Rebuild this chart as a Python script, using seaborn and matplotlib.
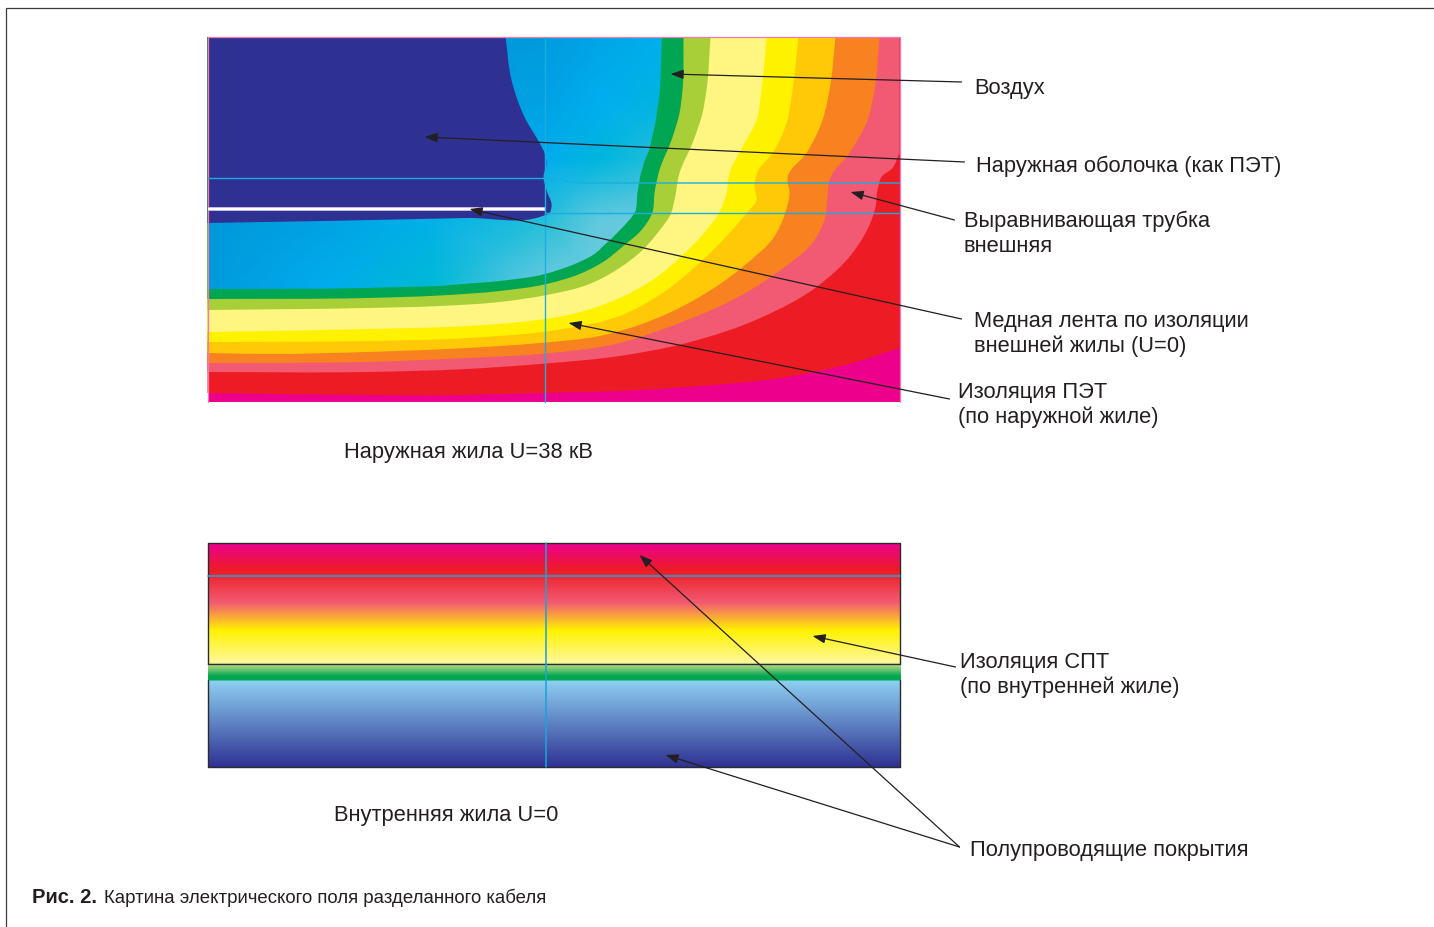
import numpy as np
import matplotlib
matplotlib.use("Agg")
import matplotlib.pyplot as plt
from matplotlib.colors import LinearSegmentedColormap
from matplotlib.patches import PathPatch
from matplotlib.path import Path
import seaborn as sns

# ---- Upper panel (outer core): contour boundaries, top/right edge towards left edge ----
panel_left, panel_right, panel_top, panel_bottom = 208, 900, 37, 402

air_edge = [(662,37),(660,90),(656,120),(650,147),(643,167),(638,190),(635,212),(623,227),(610,240),(593,255),(570,266),(545,274),(500,281),(440,285.5),(367,288),(208,289)]
green_edge = [(684,37),(683,90),(680,113),(672,140),(660,170),(655,193),(653,212),(642,230),(625,245),(605,261),(580,274),(547,284),(500,291),(440,295.5),(367,298),(208,299)]
lime_edge = [(711,37),(707,90),(703,113),(693,143),(680,173),(675,200),(672,212),(658,233),(643,250),(620,268),(590,284),(547,295),(500,302),(440,306),(367,308),(208,310)]
pale_edge = [(767,37),(762,90),(757,120),(743,147),(730,173),(727,193),(720,212),(707,230),(680,258),(653,280),(620,298),(573,314),(530,321),(467,326),(367,329),(208,332)]
yellow_edge = [(799,37),(793,90),(787,123),(773,153),(758,172),(755,187),(757,200),(748,212),(730,233),(700,263),(663,293),(620,316),(563,329),(467,338),(367,341),(208,342)]
amber_edge = [(836,37),(830,90),(823,120),(807,153),(788,178),(790,193),(786,212),(777,233),(743,267),(700,297),(653,320),(600,336),(540,343),(467,348),(367,352),(267,354),(208,353)]
orange_edge = [(880,37),(875,90),(868,120),(850,153),(830,180),(828,197),(825,220),(817,237),(777,273),(733,300),(680,323),(620,343),(540,354),(467,358),(367,362),(267,363),(208,363)]
pink_edge = [(900,153),(893,168),(882,177),(878,190),(876,207),(872,220),(853,253),(817,287),(763,317),(687,343),(620,356),(540,364),(467,369),(367,372),(208,372)]
red_edge = [(900,348),(853,363),(787,377),(687,387),(640,390),(540,393),(467,395),(367,395),(208,393)]
navy_edge = [(506,37),(512,80),(525,117),(540,143),(545,153),(547,163),(544,177),(547,190),(552,207),(550,213),(543,216),(467,218),(208,223)]

band_edges = [red_edge, pink_edge, orange_edge, amber_edge, yellow_edge, pale_edge, lime_edge, green_edge]
band_colors = ["#ED1C24", "#F15A72", "#F7821F", "#FFC907", "#FFF200", "#FFF581", "#A8CF38", "#00A651"]
base_color = "#EC008C"
navy_color = "#2E3192"

# Air-gap shading read across the blue region
air_x = [208, 320, 430, 545, 600, 662]
air_y = [37, 100, 160, 220, 290]
air_shade = [
    [0.00, 0.00, 0.00, 0.05, 0.20, 0.35],
    [0.00, 0.00, 0.05, 0.15, 0.33, 0.47],
    [0.00, 0.05, 0.20, 0.32, 0.50, 0.72],
    [0.00, 0.15, 0.40, 0.72, 0.95, 1.00],
    [0.05, 0.30, 0.58, 1.00, 1.00, 1.00],
]
air_colors = [(0.0, "#0098DA"), (0.33, "#00AEEF"), (0.58, "#00B9D6"), (1.0, "#6ECBDF")]

# ---- Lower panel (inner core) ----
lower_left, lower_right, lower_top, lower_bottom = 208, 900, 543, 767
lower_split_top, lower_split_bottom = 663.5, 680
lower_stops = [543, 570, 602, 630, 662, 664.5, 676, 680, 680.6, 767]
lower_stop_colors = ["#EC008C", "#ED1C24", "#F15A72", "#FFF200", "#FFF799", "#B9DA83",
                     "#00A651", "#00A651", "#8DCFF1", "#2E3192"]

# ---- Guide lines ----
upper_guides = [
    ([208, 545], [177.5, 177.5]),
    ([545, 580, 900], [177.5, 183, 183]),
    ([545, 900], [212.5, 212.5]),
    ([545, 545], [37, 402]),
]
lower_guides = [
    ([208, 900], [576, 576]),
    ([546, 546], [543, 767]),
]
guide_color = "#1AADE0"
conductor_y = 209

# ---- Labels ----
labels = [
    (975, 93, "Воздух"),
    (976, 171, "Наружная оболочка (как ПЭТ)"),
    (964, 226, "Выравнивающая трубка"),
    (964, 251, "внешняя"),
    (975, 326, "Медная лента по изоляции"),
    (975, 351, "внешней жилы (U=0)"),
    (958, 397, "Изоляция ПЭТ"),
    (958, 422, "(по наружной жиле)"),
    (344, 457, "Наружная жила U=38 кВ"),
    (960, 667, "Изоляция СПТ"),
    (960, 692, "(по внутренней жиле)"),
    (334, 820, "Внутренняя жила U=0"),
    (970, 855, "Полупроводящие покрытия"),
]
leaders = [
    ((962, 82), (671, 74)),
    ((965, 162), (425, 137)),
    ((955, 220), (851, 192)),
    ((962, 319), (470, 209)),
    ((950, 399), (569, 323)),
    ((956, 667), (813, 636)),
    ((960, 847), (640, 555)),
    ((960, 847), (666, 755)),
]
caption_bold = "Рис. 2."
caption_text = "Картина электрического поля разделанного кабеля"


def smooth_region(edge, corners):
    """Region bounded by a smooth curve through `edge`, closed through `corners`."""
    pts = [np.array(p, float) for p in edge]
    n = len(pts)
    tang = []
    for i in range(n):
        if i == 0 or i == n - 1:
            d = pts[min(i + 1, n - 1)] - pts[max(i - 1, 0)]
        else:
            d0, d1 = pts[i] - pts[i - 1], pts[i + 1] - pts[i]
            l0, l1 = np.hypot(*d0), np.hypot(*d1)
            d = (d0 / l0) * l1 + (d1 / l1) * l0
        tang.append(d / np.hypot(*d))
    verts, codes = [pts[0]], [Path.MOVETO]
    for i in range(n - 1):
        seg = np.hypot(*(pts[i + 1] - pts[i]))
        verts += [pts[i] + tang[i] * seg / 3, pts[i + 1] - tang[i + 1] * seg / 3, pts[i + 1]]
        codes += [Path.CURVE4] * 3
    for c in corners:
        verts.append(np.array(c, float))
        codes.append(Path.LINETO)
    verts.append(pts[0])
    codes.append(Path.CLOSEPOLY)
    return Path(np.array(verts), codes)


sns.set_theme(style="white")
plt.rcParams["font.family"] = ["Liberation Sans", "DejaVu Sans"]

W, H = 1434, 928
dx, dy = -0.5, 1  # pixel registration of the canvas
fig = plt.figure(figsize=(W / 100, H / 100), dpi=100, facecolor="white")

# Lower panel gradient as a seaborn heatmap
ax_low = fig.add_axes([(lower_left + dx) / W, 1 - (lower_bottom + dy) / H,
                       (lower_right - lower_left + 1) / W, (lower_bottom - lower_top) / H], zorder=0)
span = lower_stops[-1] - lower_stops[0]
low_cmap = LinearSegmentedColormap.from_list(
    "lower", [((s - lower_stops[0]) / span, c) for s, c in zip(lower_stops, lower_stop_colors)], N=1024)
ramp = np.arange(2 * span)[:, None]
sns.heatmap(ramp, ax=ax_low, cmap=low_cmap, cbar=False, xticklabels=False, yticklabels=False)

# Main canvas axes on pixel scale
ax = fig.add_axes([0, 0, 1, 1], zorder=1)
ax.set_xlim(0 - dx, W - dx)
ax.set_ylim(H - dy, -dy)
ax.axis("off")
ax.patch.set_alpha(0)

# Page frame
ax.plot([6.5, 6.5, W + 1], [H, 7.5, 7.5], color="#3A3A3C", lw=0.9, solid_joinstyle="miter")

# Upper panel
ax.fill_between([panel_left, panel_right], panel_top, panel_bottom, color=base_color, lw=0, zorder=1)
tl = (panel_left, panel_top)
bl_corners = lambda e: [(panel_left, e[-1][1]), tl] + ([(panel_right, panel_top)] if e[0][0] == panel_right else [])
for z, (edge, col) in enumerate(zip(band_edges, band_colors)):
    ax.add_patch(PathPatch(smooth_region(edge, bl_corners(edge)), fc=col, ec="none", lw=0, zorder=2 + z * 0.01))

air_cmap = LinearSegmentedColormap.from_list("air", air_colors)
mesh = ax.pcolormesh(air_x, air_y, np.array(air_shade), cmap=air_cmap, vmin=0, vmax=1, shading="gouraud", zorder=3)
mesh.set_clip_path(PathPatch(smooth_region(air_edge, bl_corners(air_edge)), transform=ax.transData))

ax.add_patch(PathPatch(smooth_region(navy_edge, bl_corners(navy_edge)), fc=navy_color, ec="none", lw=0, zorder=4))

# Thin pink edge of upper panel
ax.plot([panel_left, panel_left, panel_right, panel_right],
        [panel_bottom, panel_top, panel_top, panel_bottom], color="#F27BAE", lw=0.9, zorder=5)

# Conductor
ax.plot([panel_left, 545], [conductor_y] * 2, color="#B9A7D3", lw=2.9, solid_capstyle="butt", zorder=5)
ax.plot([panel_left, 545], [conductor_y] * 2, color="white", lw=1.7, solid_capstyle="butt", zorder=5.1)

for xs, ys in upper_guides:
    ax.plot(xs, ys, color=guide_color, lw=1.0, zorder=5.2)
for xs, ys in lower_guides:
    ax.plot(xs, ys, color="#1BA3DA", lw=1.15, zorder=5.2)

# Lower panel outlines
for top, bot in [(lower_top, lower_split_top), (lower_split_bottom, lower_bottom)]:
    if top == lower_split_bottom:
        xs, ys = [lower_left, lower_left, lower_right, lower_right], [top, bot, bot, top]
    else:
        xs, ys = [lower_left, lower_left, lower_right, lower_right, lower_left], [bot, top, top, bot, bot]
    ax.plot(xs, ys, color="#2B2A2E", lw=1.0, zorder=5.1)

# Leaders
for start, tip in leaders:
    ax.annotate("", xy=tip, xytext=start, zorder=6,
                arrowprops=dict(arrowstyle="-|>,head_length=0.55,head_width=0.2", color="#231F20",
                                lw=0.9, shrinkA=0, shrinkB=0, mutation_scale=14))

# Text
for x, y, s in labels:
    ax.text(x, y, s, fontsize=15.75, color="#231F20", va="baseline", ha="left", zorder=7)
ax.text(32, 902, caption_bold, fontsize=14.5, fontweight="bold", color="#231F20", va="baseline",
        family=["Liberation Sans", "DejaVu Sans"])
ax.text(104, 902, caption_text, fontsize=13.4, color="#231F20", va="baseline",
        family=["Liberation Sans", "DejaVu Sans"])

fig.savefig("out.png", dpi=100, facecolor="white")
